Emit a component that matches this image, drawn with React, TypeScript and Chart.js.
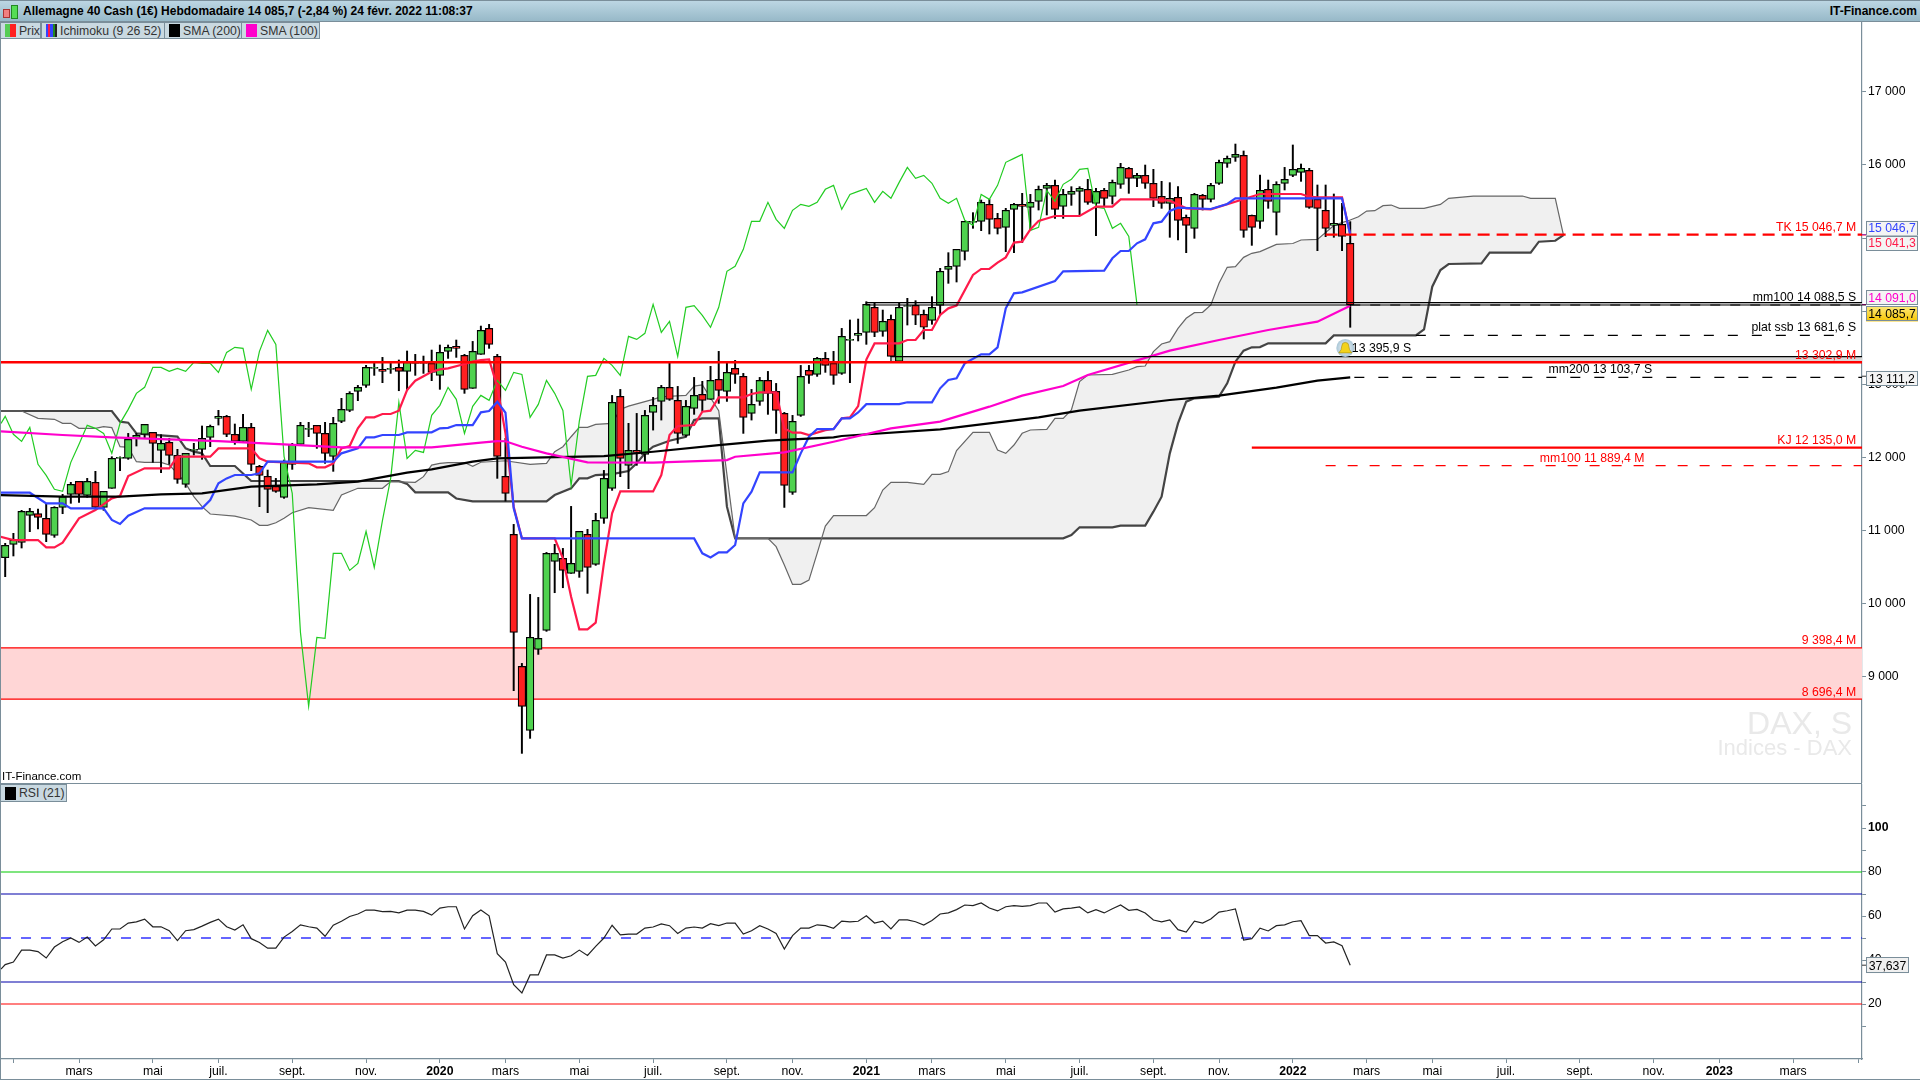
import React, { useEffect, useRef } from "react";
import { Chart, registerables } from "chart.js";

Chart.register(...registerables);

const FONT = "'Liberation Sans', Arial, sans-serif";
const FRAME = "#7a8e9a";

// ---- weekly candles, week 1 .. 165 ----
const opens = [
10631,10813,10840,11210,11232,11169,10936,11319,11497,11674,
11483,11661,11319,11579,11989,11989,12262,12317,12344,12098,
12207,12030,11633,12098,12112,12276,12535,12563,12317,12221,
12412,11879,11743,11606,11456,11907,12180,12385,12440,12330,
12016,12494,12645,12904,12986,13219,13205,13205,13232,13178,
13314,13301,13287,13123,13451,13519,13396,12945,13410,13765,
13382,11742,10949,9145,8270,9378,9637,10580,10621,10416,
10444,10949,10540,11168,11578,12836,11893,12098,12043,12617,
12767,12959,12781,12303,12672,12863,12795,13068,12904,13218,
13109,12603,12767,13054,12904,12603,11524,12576,13191,13136,
13355,13287,13150,13601,13670,13711,14053,13725,13889,13315,
14067,14080,13957,13875,14080,14572,14613,14818,15215,15228,
15461,15269,15146,15392,15461,15420,15502,15679,15720,15433,
15597,15638,15666,15474,15652,15570,15734,15953,15816,15857,
15748,15570,15474,15556,15283,15133,15584,15529,15748,16021,
16103,16130,15310,15228,15666,15351,15748,15857,15898,15925,
15529,15379,15174,15187,14928];
const closes = [
10799,10872,11264,11264,11182,10950,11319,11465,11633,11497,
11674,11319,11538,11989,12002,12248,12303,12453,12194,12194,
12030,11702,12057,12112,12262,12426,12563,12317,12221,12412,
11907,11756,11565,11538,11934,12180,12440,12399,12330,12057,
12467,12658,12877,12959,13232,13232,13178,13219,13178,13301,
13287,13287,13164,13437,13506,13492,12932,13451,13738,13546,
12016,11510,9610,8599,9542,9528,10690,10690,10457,10553,
10990,10498,11141,11715,12754,11988,12098,12070,12576,12713,
12959,12795,12330,12699,12849,12781,13054,12918,13164,13136,
12549,12726,13054,12877,12644,11619,12494,13109,13123,13355,
13259,13123,13656,13615,13698,14094,13711,13862,13383,14053,
14076,13944,13780,14053,14545,14613,14846,15228,15228,15488,
15256,15133,15379,15461,15433,15488,15666,15720,15392,15597,
15638,15679,15488,15638,15543,15761,15966,15816,15857,15748,
15543,15474,15543,15242,15174,15597,15529,15720,16035,16089,
16144,15105,15146,15652,15502,15734,15802,15939,15953,15420,
15406,15133,15201,15023,14086];
const highs = [
10827,10964,11278,11305,11296,11374,11328,11497,11661,11674,
11715,11811,11538,12011,12011,12330,12330,12453,12344,12312,
12262,12112,12057,12194,12431,12444,12645,12576,12458,12590,
12467,11893,11829,11715,11966,12194,12481,12481,12440,12481,
12549,12809,12900,12986,13260,13301,13369,13287,13333,13456,
13410,13387,13469,13538,13538,13606,13410,13587,13797,13820,
13410,12262,11086,9186,10129,10088,10703,10813,10758,11332,
10990,11018,11237,11824,12849,12931,12467,12603,12644,12822,
12986,13300,12972,12781,13095,13041,13246,13451,13300,13328,
13150,12931,13095,13177,13013,12617,12576,13259,13259,13369,
13437,13451,13765,13880,13893,14130,14108,14016,13948,14108,
14176,14144,14016,14199,14586,14800,14846,15228,15347,15520,
15529,15338,15406,15474,15611,15597,15711,15748,15793,15666,
15702,15702,15802,15679,15679,15793,16021,15966,15884,15998,
15939,15775,15757,15702,15315,15611,15597,15748,16067,16121,
16285,16190,15315,15862,15793,15770,15966,16272,16012,15953,
15725,15725,15602,15474,15224];
const lows = [
10371,10654,10763,10986,11023,10850,10909,11232,11374,11387,
11456,11305,11278,11579,11820,11975,12157,12262,11934,11793,
11907,11647,11592,12034,11975,12148,12444,12285,12180,12221,
11820,11328,11246,11524,11442,11838,12166,12285,12125,11920,
11811,12476,12626,12777,12959,13123,13023,13150,12913,12913,
13123,13150,13050,12932,13355,13369,12877,12945,13410,13492,
11715,11405,8813,7956,8161,9309,9624,10152,10220,10416,
10362,10143,10526,11100,11551,11738,11574,11893,11934,12375,
12512,12781,12193,12289,12590,12631,12795,12740,12767,13013,
12330,12512,12713,12590,12330,11318,11496,12562,13013,13109,
13164,13000,13136,13023,13593,13547,13652,13657,13383,13315,
13811,13816,13620,13821,13948,14381,14399,14700,15133,15101,
15055,15055,14814,14800,14937,15110,15383,15315,15269,15269,
15447,15310,15461,15032,15429,15465,15679,15611,15702,15679,
15429,15406,15010,14973,14800,14996,15383,15493,15734,15966,
16048,15010,14900,15133,15406,15042,15657,15839,15775,15406,
14827,15019,15010,14827,13780];

// ---- Ichimoku and SMA lines, read as vertices [week, value] ----
const tenkan: number[][] = [[0.4,10918],[2,10872],[5,10872],[6,10772],[7,10772],[8,10836],[10,11169],[12,11282],[14,11442],[15,11474],[16,11747],[18,11852],[21,11852],[22,12011],[26,12011],[27,12125],[31,12125],[32,11989],[33,11943],[38,11920],[39,11866],[40,11866],[41,11920],[42,12125],[43,12157],[44,12399],[45,12549],[46,12549],[47,12595],[48,12595],[49,12640],[50,12923],[51,13050],[53,13173],[54,13205],[55,13219],[57,13278],[58,13310],[59,13332],[60,13341],[61,12968],[62,12330],[63,11328],[64,10895],[68,10895],[69,10621],[70,10097],[71,9651],[72,9651],[73,9742],[74,10553],[75,11237],[76,11537],[80,11537],[81,11760],[82,12307],[83,12430],[85,12444],[86,12626],[87,12640],[88,12822],[91,12822],[92,12868],[93,12890],[95,12890],[96,12398],[97,12339],[98,12339],[99,12307],[101,12375],[102,12389],[103,12535],[104,12549],[105,12703],[106,13340],[107,13560],[110,13560],[111,13606],[112,13606],[113,13743],[114,13743],[115,13948],[116,14039],[117,14076],[119,14495],[120,14577],[121,14577],[122,14663],[123,14736],[124,14937],[125,14950],[126,15119],[127,15233],[129,15301],[132,15301],[134,15429],[136,15429],[137,15529],[141,15529],[143,15511],[145,15406],[148,15392],[154,15602],[159,15602],[160,15565],[161,15556],[164,15556],[165,15041]];
const kijun: number[][] = [[0.4,11519],[4,11519],[6,11374],[8,11374],[9,11305],[13,11305],[14,11146],[15,11091],[16,11205],[18,11305],[25,11305],[26,11419],[27,11647],[28,11715],[29,11761],[31,11761],[32,11784],[33,11943],[41,11943],[42,12057],[44,12125],[45,12276],[46,12276],[47,12308],[49,12308],[50,12344],[53,12344],[54,12399],[55,12405],[56,12444],[58,12444],[59,12617],[60,12635],[61,12763],[62,12612],[63,11305],[64,10895],[85,10895],[86,10690],[87,10635],[88,10703],[89,10703],[90,10804],[91,11373],[92,11533],[93,11797],[97,11797],[98,12057],[99,12284],[100,12389],[102,12389],[103,12535],[104,12536],[105,12615],[106,12730],[110,12730],[111,12755],[114,12755],[115,12946],[116,13060],[117,13082],[118,13287],[120,13410],[121,13410],[122,13506],[123,14039],[124,14244],[125,14258],[129,14413],[130,14545],[135,14554],[136,14723],[137,14823],[138,14823],[139,14928],[140,14982],[141,15201],[142,15224],[143,15370],[144,15415],[148,15397],[150,15465],[151,15543],[164,15543],[165,15047]];
const senkouB: number[][] = [[0.4,12636],[14,12636],[15,12490],[16,12476],[17,12330],[18,12321],[22,12285],[23,12125],[24,12080],[25,12057],[26,11884],[29,11884],[31,11679],[49,11679],[50,11640],[51,11524],[55,11524],[56,11440],[58,11400],[67,11400],[68,11487],[70,11578],[71,11715],[72,11715],[73,11760],[75,11774],[77,11815],[78,11920],[79,12057],[80,12148],[82,12230],[84,12284],[85,12512],[86,12535],[88,12535],[89,11328],[90,10895],[130,10896],[131,10941],[132,11046],[136,11046],[137,11069],[140,11069],[141,11260],[142,11465],[143,12057],[144,12467],[145,12764],[146,12809],[149,12832],[150,13014],[151,13310],[152,13461],[153,13506],[154,13510],[155,13561],[162,13561],[163,13670],[173,13670],[174,13752],[175,14335],[176,14563],[177,14645],[181,14654],[182,14800],[187,14800],[188,14950],[190,14963],[191,15041]];
const senkouA: number[][] = [[0.4,12636],[3,12636],[5,12535],[7,12522],[8,12467],[9,12467],[10,12399],[12,12399],[13,12421],[14,12408],[15,12148],[16,12139],[17,11943],[18,11934],[20,11934],[21,11897],[22,11784],[23,11647],[24,11465],[25,11328],[26,11228],[29,11200],[31,11146],[32,11073],[33,11073],[34,11109],[35,11169],[36,11246],[38,11314],[41,11278],[42,11487],[44,11579],[47,11579],[48,11670],[51,11661],[52,11738],[53,11897],[54,11920],[55,11929],[57,11932],[58,11880],[59,11935],[62,11956],[65,11906],[67,11920],[68,12079],[69,12148],[70,12284],[71,12412],[72,12412],[73,12453],[75,12467],[76,12658],[77,12703],[80,12795],[81,12831],[84,12849],[85,12977],[86,12991],[88,12640],[90,10895],[94,10895],[95,10781],[96,10530],[97,10266],[98,10266],[99,10325],[100,10690],[101,11063],[102,11207],[106,11207],[107,11315],[108,11556],[109,11661],[111,11661],[113,11634],[114,11770],[115,11770],[116,11807],[117,12094],[119,12344],[121,12344],[122,12103],[123,12057],[124,12171],[125,12331],[126,12376],[128,12385],[129,12536],[130,12536],[131,12650],[132,13037],[133,13128],[136,13137],[138,13196],[139,13242],[140,13251],[141,13447],[142,13552],[143,13584],[144,13766],[145,13903],[146,13980],[147,13985],[148,14085],[149,14381],[150,14600],[151,14609],[152,14736],[153,14791],[154,14814],[156,14914],[158,14925],[159,14973],[161,14982],[163,15170],[164,15210],[165,15246],[166,15291],[167,15369],[168,15374],[169,15442],[170,15451],[171,15405],[174,15405],[176,15460],[177,15542],[180,15574],[186,15574],[187,15542],[190,15542],[191,15041]];
const sma200: number[][] = [[0.4,11487],[8,11465],[15,11465],[20,11497],[25,11510],[31,11601],[39,11633],[44,11670],[50,11793],[53,11838],[58,11943],[61,11988],[74,12020],[80,12079],[88,12170],[94,12230],[102,12275],[103,12294],[115,12385],[127,12549],[132,12640],[143,12786],[149,12846],[156,12955],[161,13051],[165,13096]];
const sma100: number[][] = [[0.4,12358],[8,12308],[14,12276],[27,12225],[35,12180],[42,12139],[53,12139],[54,12148],[59,12203],[61,12225],[62,12222],[64,12148],[67,12057],[72,11934],[80,11929],[89,11965],[90,12011],[96,12070],[102,12216],[109,12399],[115,12490],[121,12695],[125,12846],[130,12978],[133,13128],[143,13461],[149,13606],[155,13743],[161,13857],[165,14076]];
// Chikou, plotted from the left edge, then weeks 1 to 139
const chikouStart = 12465;
const chikou = [
12563,12317,12221,12412,11907,11756,11565,11538,11934,12180,
12440,12399,12330,12057,12467,12658,12877,12959,13232,13232,
13178,13219,13178,13301,13287,13287,13164,13437,13506,13492,
12932,13451,13738,13546,12016,11510,9610,8599,9542,9528,
10690,10690,10457,10553,10990,10498,11141,11715,12754,11988,
12098,12070,12576,12713,12959,12795,12330,12699,12849,12781,
13054,12918,13164,13136,12549,12726,13054,12877,12644,11619,
12494,13109,13123,13355,13259,13123,13656,13615,13698,14094,
13711,13862,13383,14053,14076,13944,13780,14053,14545,14613,
14846,15228,15228,15488,15256,15133,15379,15461,15433,15488,
15666,15720,15392,15597,15638,15679,15488,15638,15543,15761,
15966,15816,15857,15748,15543,15474,15543,15242,15174,15597,
15529,15720,16035,16089,16144,15105,15146,15652,15502,15734,
15802,15939,15953,15420,15406,15133,15201,15023,14086];

// RSI, from the left edge, then week 1 .. 165
const rsiStart = 35.9;
const rsi = [
37.9,39.1,44.5,44.5,43.8,40.9,45.9,48.3,50,48,50.4,46.4,49.2,54.1,54.1,56.8,57.3,58.6,55.1,55.1,
53.3,48.8,53.3,53.8,55.4,57.1,58.6,55.1,53.6,56,49.7,48,45.4,45.4,50.4,53,56,55.1,54.5,50.8,
55.8,57.6,59.8,60.9,62.7,62.7,62,62.1,61.4,62.7,62.7,62.1,60.4,63.6,64.2,64.2,54.1,60.1,62.7,60.1,
42.9,39.1,28.8,25,33.2,33.2,42.3,42.3,40.9,41.9,44.5,42.1,46.2,50,55.8,51.4,51.8,51.8,54.5,55,
56.4,55.6,52.1,54.5,55,54.5,56.5,55.6,56.8,56.8,51.8,53.3,55.6,54.1,52.1,45,51.1,54.5,54.5,56,
55.6,54.4,57.7,57.3,57.6,60.1,56.8,57.7,54.1,58.2,58.2,57.4,55.9,58,60.9,61.4,62.9,
65,64.7,65.9,63.6,62.3,64.2,64.7,64.4,64.7,65.9,65.9,61.8,63.2,63.6,64.1,61.4,62.9,61.4,63.3,65,
62.6,63,61.4,58.2,57.3,58.2,53.8,52.7,57.7,56.8,58.6,61.8,62.4,63.2,49.1,49.7,54.5,53.2,55.6,56,
57.4,57.9,51.1,51.1,47.7,48.2,46.5,37.6];

// ---- axes ----
const WEEK_MIN = 0.488;
const WEEK_MAX = 227.4;
const PRICE_MAX = 17953;
const PRICE_MIN = 7551;
const RSI_MAX = 120;
const RSI_MIN = -5;
const priceTicks = [9000,10000,11000,12000,13000,14000,15000,16000,17000];
const rsiTicks = [10,20,30,40,50,60,70,80,90,100,110];
const xTickWeeks = [2,10,19,27,36,45,54,62,71,80,89,97,106,114,123,132,141,149,158,167,175,184,193,202,210,219,227];
const xTickLabels = ["","mars","mai","juil.","sept.","nov.","2020","mars","mai","juil.","sept.","nov.","2021","mars","mai","juil.","sept.","nov.","2022","mars","mai","juil.","sept.","nov.","2023","mars",""];
const rsiTickLabels: Record<number, string> = { 100: "100", 80: "80", 60: "60", 40: "40", 20: "20" };

// ---- price levels ----
const zoneTop = 9398.4;
const zoneBottom = 8696.4;
const level13302 = 13302.9;
const levelKJ = 12135;
const levelTK = 15046.7;
const levelMm100M = 11889.4;
const levelMm100S = 14085;
const levelSsb = 13670;
const levelMm200S = 13095;
const rectUpper = [14116, 14085];
const rectLower = [13378, 13300];

// text on the chart: [text, week, value, align, colour]
const levelLabels: [string, number, number, CanvasTextAlign, string][] = [
  ["TK 15 046,7 M", 226.7, 15046.7, "right", "#ff0000"],
  ["mm100 14 088,5 S", 226.7, 14088.5, "right", "#000000"],
  ["plat ssb 13 681,6 S", 226.7, 13681.6, "right", "#000000"],
  ["13 395,9 S", 165.2, 13395.9, "left", "#000000"],
  ["13 302,9 M", 226.7, 13302.9, "right", "#ff0000"],
  ["mm200 13 103,7 S", 195.5, 13103.7, "center", "#000000"],
  ["KJ 12 135,0 M", 226.7, 12135, "right", "#ff0000"],
  ["mm100 11 889,4 M", 194.5, 11889.4, "center", "#ff0000"],
  ["9 398,4 M", 226.7, 9398.4, "right", "#ff0000"],
  ["8 696,4 M", 226.7, 8696.4, "right", "#ff0000"],
];
// value boxes on the right axis: [text, value, y shift, text colour, yellow]
const axisBoxes: [string, number, number, string, boolean][] = [
  ["15 046,7", 15046.7, -6.6, "#3344ff", false],
  ["15 041,3", 15041.3, 8, "#ff1a4a", false],
  ["14 091,0", 14091, -7, "#ff00cc", false],
  ["14 085,7", 14085.7, 9, "#000000", true],
  ["13 111,2", 13111.2, 2, "#000000", false],
];

const pts = (a: number[][]) => a.map(([x, y]) => ({ x, y }));
const hline = (y: number, from = WEEK_MIN, to = WEEK_MAX) => [{ x: from, y }, { x: to, y }];
const weeks = closes.map((_, i) => i + 1);
const frenchThousands = (v: number) => String(v).replace(/\B(?=(\d{3})+$)/g, " ");

function lineSet(data: any[], color: string, width: number, order: number, extra: any = {}) {
  return { type: "line", data, borderColor: color, borderWidth: width, pointRadius: 0, tension: 0, fill: false, order, ...extra };
}

const mainOverlay = {
  id: "mainOverlay",
  beforeDatasetsDraw(chart: any) {
    const ctx = chart.ctx;
    ctx.save();
    ctx.fillStyle = "#e9e9e9";
    ctx.textAlign = "right";
    ctx.textBaseline = "middle";
    ctx.font = `32px ${FONT}`;
    ctx.fillText("DAX, S", 1852, 703);
    ctx.font = `22px ${FONT}`;
    ctx.fillText("Indices - DAX", 1852, 727);
    ctx.restore();
  },
  afterDraw(chart: any) {
    const ctx = chart.ctx;
    const xs = chart.scales.x;
    const ys = chart.scales.y;
    ctx.save();
    ctx.font = `12.25px ${FONT}`;
    ctx.textBaseline = "middle";
    // bell
    const bx = xs.getPixelForValue(164.4);
    const by = ys.getPixelForValue(13395.9) - 7.5;
    const g = ctx.createRadialGradient(bx, by, 2, bx, by, 9);
    g.addColorStop(0, "#e8f0f5");
    g.addColorStop(1, "#a9c6d6");
    ctx.fillStyle = g;
    ctx.beginPath();
    ctx.arc(bx, by, 9, 0, Math.PI * 2);
    ctx.fill();
    ctx.fillStyle = "#f2d21b";
    ctx.strokeStyle = "#a08a10";
    ctx.lineWidth = 0.6;
    ctx.beginPath();
    ctx.moveTo(bx - 6.5, by + 5);
    ctx.quadraticCurveTo(bx - 3.5, by + 2, bx - 3.5, by - 2);
    ctx.arc(bx, by - 2, 3.5, Math.PI, 0);
    ctx.quadraticCurveTo(bx + 3.5, by + 2, bx + 6.5, by + 5);
    ctx.closePath();
    ctx.fill();
    ctx.stroke();
    for (const [text, week, value, align, color] of levelLabels) {
      ctx.textAlign = align;
      ctx.fillStyle = color;
      ctx.fillText(text, xs.getPixelForValue(week), ys.getPixelForValue(value) - 7);
    }
    // axis boxes
    const left = 1866;
    const w = 52;
    const h = 15;
    for (const [text, value, shift, color, yellow] of axisBoxes) {
      const yv = ys.getPixelForValue(value);
      const cy = yv + shift;
      ctx.strokeStyle = color === "#000000" && !yellow ? "#333333" : color;
      ctx.lineWidth = 1;
      ctx.beginPath();
      ctx.moveTo(1862, yv);
      ctx.lineTo(left, yv);
      ctx.stroke();
      if (yellow) {
        const gr = ctx.createLinearGradient(0, cy - h / 2, 0, cy + h / 2);
        gr.addColorStop(0, "#ffe97a");
        gr.addColorStop(1, "#f5c400");
        ctx.fillStyle = gr;
      } else {
        ctx.fillStyle = "#f4f4f4";
      }
      ctx.fillRect(left, cy - h / 2, w, h);
      ctx.strokeStyle = FRAME;
      ctx.strokeRect(left + 0.5, Math.round(cy - h / 2) + 0.5, w - 1, h - 1);
      ctx.fillStyle = color;
      ctx.textAlign = "center";
      ctx.fillText(text, left + w / 2, cy + 1);
    }
    ctx.restore();
  },
};

const rsiOverlay = {
  id: "rsiOverlay",
  afterDraw(chart: any) {
    const ctx = chart.ctx;
    const ys = chart.scales.y;
    const cy = ys.getPixelForValue(37.637);
    ctx.save();
    ctx.strokeStyle = "#333333";
    ctx.beginPath();
    ctx.moveTo(1862, cy);
    ctx.lineTo(1866, cy);
    ctx.stroke();
    ctx.fillStyle = "#f0f0f0";
    ctx.fillRect(1866, cy - 8, 43, 16);
    ctx.strokeStyle = FRAME;
    ctx.strokeRect(1866.5, Math.round(cy - 8) + 0.5, 42, 15);
    ctx.fillStyle = "#000000";
    ctx.font = `12.25px ${FONT}`;
    ctx.textAlign = "center";
    ctx.textBaseline = "middle";
    ctx.fillText("37,637", 1887.5, cy + 1);
    ctx.restore();
  },
};

function yAfterFit(scale: any) {
  scale.width = 58;
  scale.paddingTop = 0;
  scale.paddingBottom = 0;
}

function makeMainChart(canvas: HTMLCanvasElement) {
  const datasets: any[] = [
    lineSet(hline(zoneTop), "#ff0000", 1.2, 100, { fill: { value: zoneBottom }, backgroundColor: "#ffd6d6" }),
    lineSet(hline(zoneBottom), "#ff0000", 1.2, 99),
    lineSet(hline(rectLower[0], 109), "rgba(0,0,0,0)", 0, 98, { fill: { value: rectLower[1] }, backgroundColor: "#d8d8d8" }),
    lineSet(hline(rectUpper[0], 106), "rgba(0,0,0,0)", 0, 97, { fill: { value: rectUpper[1] }, backgroundColor: "#eeeeee" }),
    lineSet(pts(senkouB), "#444444", 2.2, 92, { fill: "+1", backgroundColor: "#f0f0f0" }),
    lineSet(pts(senkouA), "#666666", 1.2, 91),
    {
      type: "bar", data: weeks.map((x, i) => ({ x, y: [lows[i], highs[i]] })), backgroundColor: "#000000",
      barThickness: 1.3, grouped: false, borderWidth: 0, order: 60,
    },
    {
      type: "bar", data: weeks.map((x, i) => ({ x, y: [opens[i], closes[i]] })),
      backgroundColor: weeks.map((_, i) => (closes[i] >= opens[i] ? "#4fd24f" : "#ff2020")),
      borderColor: "#000000", borderWidth: 1.2, borderSkipped: false, barThickness: 7.6, grouped: false, order: 50,
    },
    lineSet([{ x: WEEK_MIN, y: chikouStart }, ...chikou.map((y, i) => ({ x: i + 1, y }))], "#22cc22", 1.2, 40),
    lineSet(pts(tenkan), "#ff1a4a", 2.2, 20),
    lineSet(pts(kijun), "#3344ff", 2.2, 15),
    lineSet(pts(sma200), "#000000", 2.2, 12),
    lineSet(pts(sma100), "#ff00cc", 2.2, 10),
    lineSet(hline(levelMm100S, 165), "#000000", 1.2, 8, { borderDash: [10, 10] }),
    lineSet(hline(levelSsb, 173, 226), "#000000", 1.2, 8, { borderDash: [10, 14] }),
    lineSet(hline(levelMm200S, 165.5), "#000000", 1.2, 8, { borderDash: [10, 14] }),
    lineSet([{ x: WEEK_MAX, y: rectUpper[0] }, { x: 106, y: rectUpper[0] }, { x: 106, y: rectUpper[1] }, { x: WEEK_MAX, y: rectUpper[1] }], "#000000", 1.2, 7),
    lineSet([{ x: WEEK_MAX, y: rectLower[0] }, { x: 109, y: rectLower[0] }, { x: 109, y: rectLower[1] }], "#000000", 1.2, 7),
    lineSet(hline(level13302), "#ff0000", 2.4, 5),
    lineSet(hline(levelKJ, 153), "#ff0000", 2.4, 5),
    lineSet(hline(levelTK, 162), "#ff0000", 2.4, 5, { borderDash: [12, 7] }),
    lineSet(hline(levelMm100M, 162), "#ff0000", 1.2, 5, { borderDash: [10, 12] }),
  ];
  return new Chart(canvas, {
    type: "line",
    data: { datasets },
    plugins: [mainOverlay],
    options: {
      animation: false,
      responsive: false,
      events: [],
      layout: { padding: { left: 1, right: 0, top: 0, bottom: 0 } },
      plugins: { legend: { display: false }, tooltip: { enabled: false } },
      scales: {
        x: { type: "linear", min: WEEK_MIN, max: WEEK_MAX, display: false, offset: false },
        y: {
          position: "right", min: PRICE_MIN, max: PRICE_MAX,
          afterBuildTicks: (scale: any) => { scale.ticks = priceTicks.map((value) => ({ value })); },
          afterFit: yAfterFit,
          border: { color: FRAME, width: 1.2 },
          grid: { drawOnChartArea: false, tickLength: 4, color: FRAME },
          ticks: {
            padding: 2, color: "#000000", autoSkip: false,
            font: { family: FONT, size: 12.25 },
            callback: (v: any) => frenchThousands(v),
          },
        },
      },
    } as any,
  } as any);
}

function makeRsiChart(canvas: HTMLCanvasElement) {
  const datasets: any[] = [
    lineSet(hline(80), "#00cc00", 1.2, 10),
    lineSet(hline(70), "#0000aa", 1.2, 10),
    lineSet(hline(50), "#0000ff", 1.2, 10, { borderDash: [10, 10] }),
    lineSet(hline(30), "#0000aa", 1.2, 10),
    lineSet(hline(20), "#ff0000", 1.2, 10),
    lineSet([{ x: WEEK_MIN, y: rsiStart }, ...rsi.map((y, i) => ({ x: i + 1, y }))], "#222222", 1.2, 1),
  ];
  return new Chart(canvas, {
    type: "line",
    data: { datasets },
    plugins: [rsiOverlay],
    options: {
      animation: false,
      responsive: false,
      events: [],
      layout: { padding: { left: 1, right: 0, top: 0, bottom: 0 } },
      plugins: { legend: { display: false }, tooltip: { enabled: false } },
      scales: {
        x: {
          type: "linear", min: WEEK_MIN, max: WEEK_MAX, offset: false,
          afterBuildTicks: (scale: any) => { scale.ticks = xTickWeeks.map((value) => ({ value })); },
          afterFit: (scale: any) => { scale.height = 21; scale.paddingLeft = 0; scale.paddingRight = 0; },
          border: { color: FRAME, width: 1.2 },
          grid: { drawOnChartArea: false, tickLength: 4, color: FRAME },
          ticks: {
            autoSkip: false, maxRotation: 0, padding: 1, color: "#000000",
            font: (c: any) => ({ family: FONT, size: 12.25, weight: /^\d+$/.test(xTickLabels[xTickWeeks.indexOf(c.tick?.value)] || "") ? "bold" : "normal" }),
            callback: (v: any) => xTickLabels[xTickWeeks.indexOf(v)] ?? "",
          },
        },
        y: {
          position: "right", min: RSI_MIN, max: RSI_MAX,
          afterBuildTicks: (scale: any) => { scale.ticks = rsiTicks.map((value) => ({ value })); },
          afterFit: yAfterFit,
          border: { color: FRAME, width: 1.2 },
          grid: { drawOnChartArea: false, tickLength: 4, color: FRAME },
          ticks: {
            padding: 2, color: "#000000", autoSkip: false,
            font: (c: any) => ({ family: FONT, size: 12.25, weight: c.tick?.value === 100 ? "bold" : "normal" }),
            callback: (v: any) => rsiTickLabels[v] ?? "",
          },
        },
      },
    } as any,
  } as any);
}

const legendBase: React.CSSProperties = {
  position: "absolute", top: 22, height: 17, boxSizing: "border-box", background: "#c9d9e1",
  border: `1px solid ${FRAME}`, display: "flex", alignItems: "center", font: `12.25px ${FONT}`, color: "#333",
  whiteSpace: "nowrap",
};
const swatch = (colors: string[]) => (
  <span style={{ display: "inline-flex", width: 11, height: 13, margin: "0 3px 0 4px" }}>
    {colors.map((c, i) => <span key={i} style={{ flex: 1, background: c }} />)}
  </span>
);

export default function App() {
  const mainRef = useRef<HTMLCanvasElement>(null);
  const rsiRef = useRef<HTMLCanvasElement>(null);
  useEffect(() => {
    document.body.style.margin = "0";
    const a = makeMainChart(mainRef.current!);
    const b = makeRsiChart(rsiRef.current!);
    return () => { a.destroy(); b.destroy(); };
  }, []);
  return (
    <div style={{ position: "absolute", left: 0, top: 0, width: 1920, height: 1080, overflow: "hidden", background: "#fff" }}>
      <canvas ref={mainRef} width={1920} height={761} style={{ position: "absolute", left: 0, top: 22, width: 1920, height: 761 }} />
      <canvas ref={rsiRef} width={1920} height={296} style={{ position: "absolute", left: 0, top: 784, width: 1920, height: 296 }} />

      <div style={{ position: "absolute", left: 0, top: 0, width: 1920, height: 22, boxSizing: "border-box", background: "linear-gradient(#bcd6e3,#97b9c8)", borderTop: `1px solid ${FRAME}`, borderBottom: `1px solid ${FRAME}` }}>
        <span style={{ position: "absolute", left: 3, top: 8, width: 5, height: 7, background: "#f08080", border: "1px solid #a33" }} />
        <span style={{ position: "absolute", left: 11, top: 4, width: 5, height: 12, background: "#55dd55", border: "1px solid #282" }} />
        <span style={{ position: "absolute", left: 23, top: 3, font: `bold 12px ${FONT}`, color: "#000", whiteSpace: "nowrap" }}>
          Allemagne 40 Cash (1€) Hebdomadaire 14 085,7 (-2,84 %) 24 févr. 2022 11:08:37
        </span>
        <span style={{ position: "absolute", right: 3, top: 3, font: `bold 12px ${FONT}`, color: "#000", whiteSpace: "nowrap" }}>IT-Finance.com</span>
      </div>

      <div style={{ ...legendBase, left: 0, width: 41 }}>{swatch(["#55cc55", "#ff2020"])}Prix</div>
      <div style={{ ...legendBase, left: 41, width: 124 }}>{swatch(["#3344ff", "#ff1a4a", "#3344ff", "#228822", "#222"])}Ichimoku (9 26 52)</div>
      <div style={{ ...legendBase, left: 164, width: 78 }}>{swatch(["#000"])}SMA (200)</div>
      <div style={{ ...legendBase, left: 241, width: 79 }}>{swatch(["#ff00cc"])}SMA (100)</div>

      <div style={{ position: "absolute", left: 2, top: 770, font: `11.5px ${FONT}`, color: "#000", whiteSpace: "nowrap" }}>IT-Finance.com</div>
      <div style={{ position: "absolute", left: 0, top: 783, width: 1862, height: 1, background: FRAME }} />
      <div style={{ ...legendBase, left: 0, top: 784, width: 67, height: 18 }}>{swatch(["#000"])}RSI (21)</div>

      <div style={{ position: "absolute", left: 0, top: 22, width: 1, height: 1058, background: FRAME }} />
      <div style={{ position: "absolute", left: 0, top: 1079, width: 1920, height: 1, background: FRAME }} />
    </div>
  );
}
